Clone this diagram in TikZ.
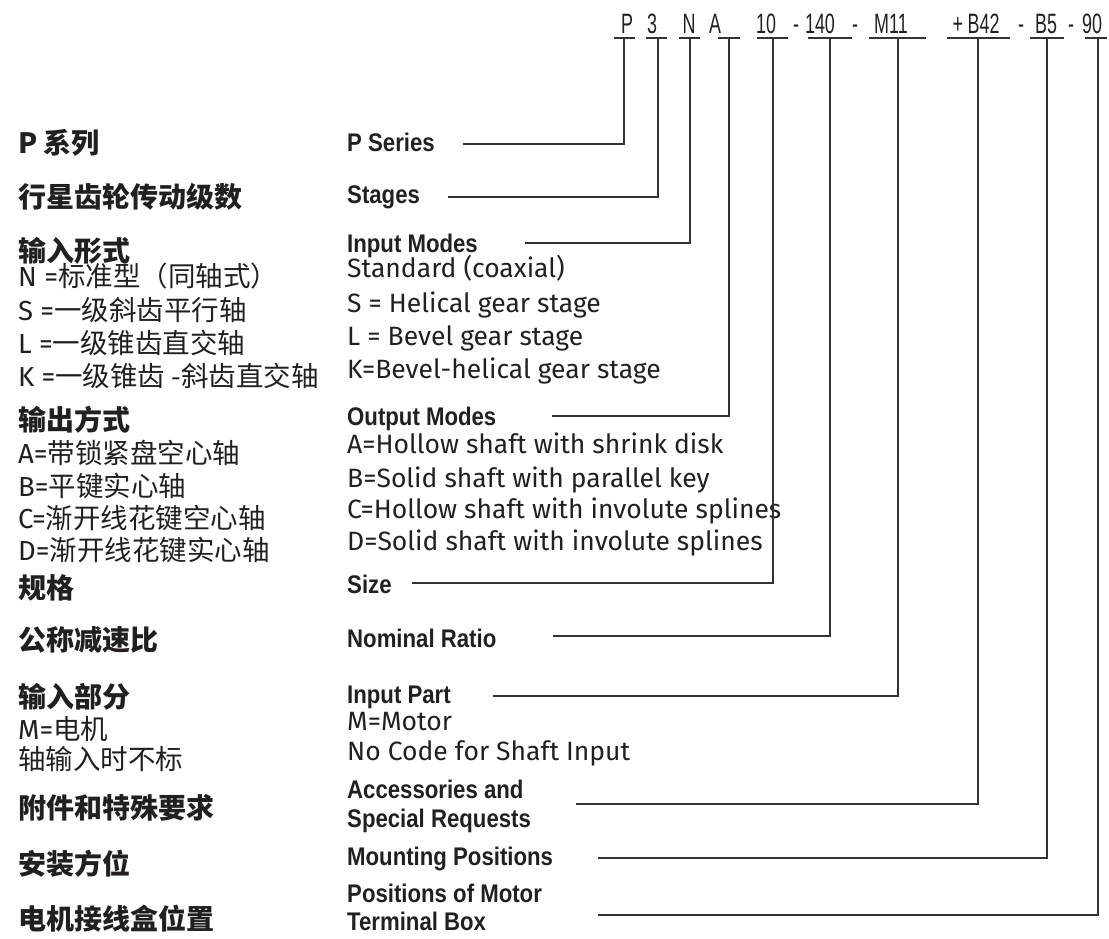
\documentclass[tikz,border=0pt]{standalone}
\usepackage{fontspec}
\setmainfont{Liberation Sans}
\newfontfamily\cjk{Noto Sans CJK SC}
\newfontfamily\din{Fira Sans}
\newfontfamily\enbold{Liberation Sans}[FakeStretch=0.87]
\newfontfamily\codefont{Liberation Sans}[FakeStretch=0.64]
\definecolor{ink}{HTML}{231F20}
\definecolor{wire}{HTML}{333333}
\tikzset{
  code/.style={anchor=base, inner sep=0pt, text=ink, font=\codefont\fontsize{28}{30}\selectfont},
  enhead/.style={anchor=base west, inner sep=0pt, text=ink, font=\enbold\bfseries\fontsize{25.5}{27}\selectfont},
  endesc/.style={anchor=base west, inner sep=0pt, text=ink, font=\din\fontsize{26.5}{28}\selectfont},
  zhhead/.style={anchor=west, inner sep=0pt, text=ink, font=\cjk\bfseries\fontsize{28}{30}\selectfont},
  zhdesc/.style={anchor=west, inner sep=0pt, text=ink, font=\cjk\fontsize{27.5}{29}\selectfont},
  uline/.style={draw=wire, line width=1.2pt},
  link/.style={draw=wire, line width=1.2pt},
}
\begin{document}
\begin{tikzpicture}[x=1pt,y=-1pt]
\useasboundingbox (0,0) rectangle (1109,938);
% ---- code row ----
\node[code] (cP) at (627,33) {P};
\node[code] (c3) at (652,33) {3};
\node[code] (cN) at (689,33) {N};
\node[code] (cA) at (715,33) {A};
\node[code] (c10) at (766,33) {10};
\node[code] (d1) at (796,33) {-};
\node[code] (c140) at (820,33) {140};
\node[code] (d2) at (855,33) {-};
\node[code] (cM) at (891,33) {M11};
\node[code] (cB42) at (976,33) {+\,B42};
\node[code] (d3) at (1021,33) {-};
\node[code] (cB5) at (1046,33) {B5};
\node[code] (d4) at (1071,33) {-};
\node[code] (c90) at (1092,33) {90};
% underlines
\draw[uline] (614,38) -- (635,38);
\draw[uline] (646,38) -- (667,38);
\draw[uline] (679,38) -- (700,38);
\draw[uline] (718,38) -- (740,38);
\draw[uline] (757,38) -- (788,38);
\draw[uline] (808,38) -- (852,38);
\draw[uline] (869,38) -- (926,38);
\draw[uline] (947,38) -- (1010,38);
\draw[uline] (1030,38) -- (1064,38);
\draw[uline] (1085,38) -- (1107,38);
\coordinate (tP) at (624,38);
\coordinate (t3) at (658,38);
\coordinate (tN) at (690,38);
\coordinate (tA) at (729,38);
\coordinate (t10) at (773,38);
\coordinate (t140) at (830,38);
\coordinate (tM) at (898,38);
\coordinate (tB42) at (978,38);
\coordinate (tB5) at (1047,38);
\coordinate (t90) at (1098,38);
% ---- left column (Chinese) ----
\node[zhhead] (z1) at (18,143) {P 系列};
\node[zhhead] (z2) at (18,197) {行星齿轮传动级数};
\node[zhhead] (z3) at (18,251) {输入形式};
\node[zhdesc] (z3a) at (18,276) {{\din N =}标准型（同轴式）};
\node[zhdesc] (z3b) at (18,310) {{\din S =}一级斜齿平行轴};
\node[zhdesc] (z3c) at (18,343) {{\din L =}一级锥齿直交轴};
\node[zhdesc] (z3d) at (18,376) {{\din K =}一级锥齿 -斜齿直交轴};
\node[zhhead] (z4) at (18,420) {输出方式};
\node[zhdesc] (z4a) at (18,453) {{\din A=}带锁紧盘空心轴};
\node[zhdesc] (z4b) at (18,486) {{\din B=}平键实心轴};
\node[zhdesc] (z4c) at (18,518) {{\din C=}渐开线花键空心轴};
\node[zhdesc] (z4d) at (18,550) {{\din D=}渐开线花键实心轴};
\node[zhhead] (z5) at (18,588) {规格};
\node[zhhead] (z6) at (18,640) {公称减速比};
\node[zhhead] (z7) at (18,697) {输入部分};
\node[zhdesc] (z7a) at (18,729) {{\din M=}电机};
\node[zhdesc] (z7b) at (18,759) {轴输入时不标};
\node[zhhead] (z8) at (18,808) {附件和特殊要求};
\node[zhhead] (z9) at (18,864) {安装方位};
\node[zhhead] (z10) at (18,919) {电机接线盒位置};
% ---- right column (English) ----
\node[enhead] (e1) at (347,151) {P Series};
\node[enhead] (e2) at (347,203) {Stages};
\node[enhead] (e3) at (347,252) {Input Modes};
\node[endesc] (e3a) at (347,277) {Standard (coaxial)};
\node[endesc] (e3b) at (347,312) {S = Helical gear stage};
\node[endesc] (e3c) at (347,345) {L = Bevel gear stage};
\node[endesc] (e3d) at (347,378) {K=Bevel-helical gear stage};
\node[enhead] (e4) at (347,425) {Output Modes};
\node[endesc] (e4a) at (347,453) {A=Hollow shaft with shrink disk};
\node[endesc] (e4b) at (347,487) {B=Solid shaft with parallel key};
\node[endesc] (e4c) at (347,518) {C=Hollow shaft with involute splines};
\node[endesc] (e4d) at (347,550) {D=Solid shaft with involute splines};
\node[enhead] (e5) at (347,593) {Size};
\node[enhead] (e6) at (347,647) {Nominal Ratio};
\node[enhead] (e7) at (347,703) {Input Part};
\node[endesc] (e7a) at (347,730) {M=Motor};
\node[endesc] (e7b) at (347,760) {No Code for Shaft Input};
\node[enhead] (e8) at (347,798) {Accessories and};
\node[enhead] (e8b) at (347,827) {Special Requests};
\node[enhead] (e9) at (347,865) {Mounting Positions};
\node[enhead] (e10) at (347,902) {Positions of Motor};
\node[enhead] (e10b) at (347,930) {Terminal Box};
% ---- connector start points ----
\coordinate (s1) at (463,144);
\coordinate (s2) at (448,197);
\coordinate (s3) at (525,243);
\coordinate (s4) at (552,416);
\coordinate (s5) at (412,583);
\coordinate (s6) at (553,636);
\coordinate (s7) at (493,696);
\coordinate (s8) at (576,804);
\coordinate (s9) at (598,858);
\coordinate (s10) at (598,915);
% ---- connectors ----
\draw[link] (s1) -| (tP);
\draw[link] (s2) -| (t3);
\draw[link] (s3) -| (tN);
\draw[link] (s4) -| (tA);
\draw[link] (s5) -| (t10);
\draw[link] (s6) -| (t140);
\draw[link] (s7) -| (tM);
\draw[link] (s8) -| (tB42);
\draw[link] (s9) -| (tB5);
\draw[link] (s10) -| (t90);
\end{tikzpicture}
\end{document}
